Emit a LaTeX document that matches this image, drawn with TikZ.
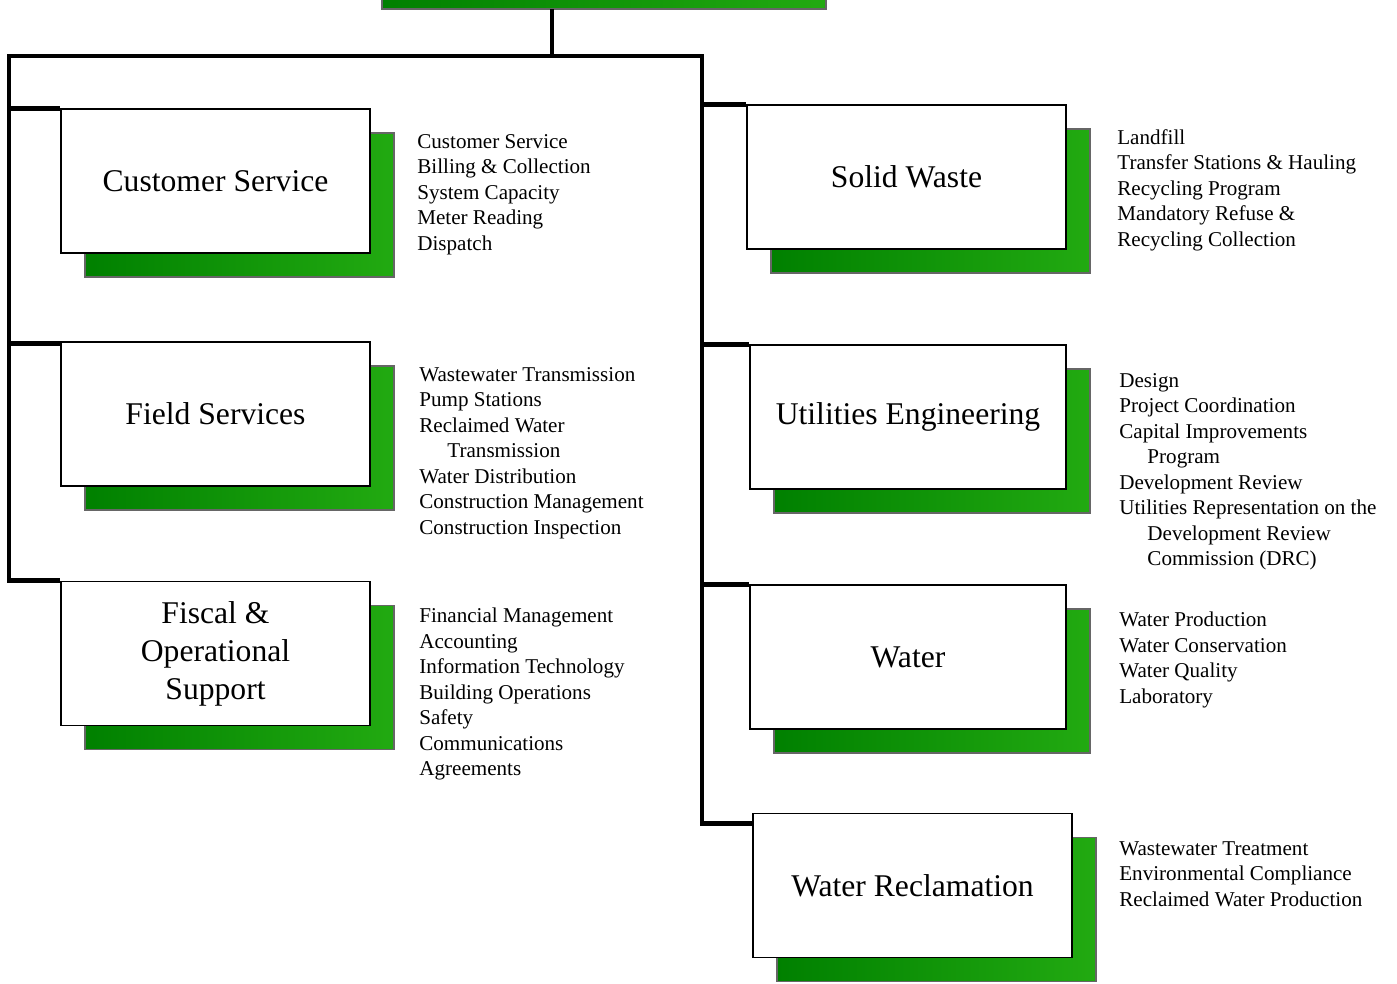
\documentclass[tikz,border=0pt]{standalone}
\usepackage{fontspec}
\setmainfont{Liberation Serif}
\usetikzlibrary{shadows}

\definecolor{dkgreen}{RGB}{0,128,0}
\definecolor{ltgreen}{RGB}{34,170,17}
\newcommand{\ind}{\hspace*{16pt}}

\tikzset{
  dept/.style={draw, line width=0.8pt, fill=white, minimum height=2.88cm,
    align=center, font=\fontsize{18}{21.6}\selectfont,
    general shadow={shadow xshift=0.48cm, shadow yshift=-0.48cm,
      left color=dkgreen, right color=ltgreen, draw=black!60, line width=0.8pt}},
  duties/.style={anchor=north west, inner sep=0pt, align=left,
    font=\fontsize{12}{14.5}\selectfont},
  trunk/.style={line width=2.8pt}
}

\begin{document}
\begin{tikzpicture}[x=0.02cm, y=-0.02cm]
\useasboundingbox (0,0) rectangle (1397,984);

\shade[left color=dkgreen, right color=ltgreen, draw=black!60, line width=0.8pt] (382,-40) rectangle (826,9);

\coordinate (lt) at (9,56);
\coordinate (rt) at (702,56);

\node[dept, minimum width=6.18cm] (cs) at (215.5,181) {Customer Service};
\node[dept, minimum width=6.18cm] (fs) at (215.5,414) {Field Services};
\node[dept, minimum width=6.18cm] (fo) at (215.5,653.5) {Fiscal \&\\Operational\\Support};
\node[dept, minimum width=6.38cm] (sw) at (906.5,177) {Solid Waste};
\node[dept, minimum width=6.32cm] (ue) at (908,417) {Utilities Engineering};
\node[dept, minimum width=6.32cm] (wa) at (908,657) {Water};
\node[dept, minimum width=6.38cm] (wr) at (912.5,885.5) {Water Reclamation};

\draw[trunk] (552,9) -- (552,56);
\draw[trunk] (fo.north west) -| (lt) -- (rt) |- ([yshift=-0.22cm]wr.north west);
\draw[trunk] (cs.north west) -- (cs.north west -| lt);
\draw[trunk] ([yshift=-0.04cm]fs.north west) -- ([yshift=-0.04cm]fs.north west -| lt);
\draw[trunk] (sw.north west) -- (sw.north west -| rt);
\draw[trunk] (ue.north west) -- (ue.north west -| rt);
\draw[trunk] (wa.north west) -- (wa.north west -| rt);

\node[duties] (csl) at (417,134) {Customer Service\\Billing \& Collection\\System Capacity\\Meter Reading\\Dispatch};
\node[duties] (fsl) at (419,367) {Wastewater Transmission\\Pump Stations\\Reclaimed Water\\\ind Transmission\\Water Distribution\\Construction Management\\Construction Inspection};
\node[duties] (fol) at (419,608) {Financial Management\\Accounting\\Information Technology\\Building Operations\\Safety\\Communications\\Agreements};
\node[duties] (swl) at (1117,129) {Landfill\\Transfer Stations \& Hauling\\Recycling Program\\Mandatory Refuse \&\\Recycling Collection};
\node[duties] (uel) at (1119,373) {Design\\Project Coordination\\Capital Improvements\\\ind Program\\Development Review\\Utilities Representation on the\\\ind Development Review\\\ind Commission (DRC)};
\node[duties] (wal) at (1119,612) {Water Production\\Water Conservation\\Water Quality\\Laboratory};
\node[duties] (wrl) at (1119,841) {Wastewater Treatment\\Environmental Compliance\\Reclaimed Water Production};
\end{tikzpicture}
\end{document}
